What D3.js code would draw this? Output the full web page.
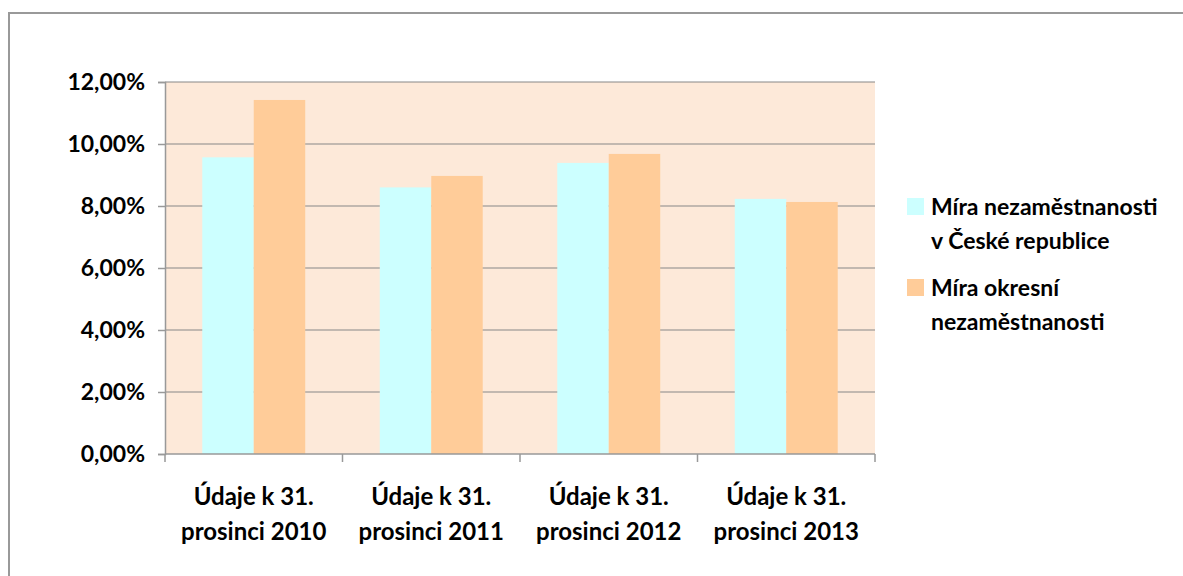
<!DOCTYPE html>
<html>
<head>
<meta charset="utf-8">
<script src="https://cdn.jsdelivr.net/npm/d3@7"></script>
<style>
  body { margin: 0; background: #fff; }
  svg text { font-family: Lato, "Open Sans", sans-serif; font-weight: bold; fill: #000; }
</style>
</head>
<body>
<svg width="1183" height="576"></svg>
<script>
const categories = [
  ['Údaje k 31.', 'prosinci 2010'],
  ['Údaje k 31.', 'prosinci 2011'],
  ['Údaje k 31.', 'prosinci 2012'],
  ['Údaje k 31.', 'prosinci 2013']
]
const seriesNames = [
  ['Míra nezaměstnanosti', 'v České republice'],
  ['Míra okresní', 'nezaměstnanosti']
]
const czValues = [9.57, 8.60, 9.39, 8.23]
const districtValues = [11.42, 8.97, 9.68, 8.13]
const yTicks = [0, 2, 4, 6, 8, 10, 12]
const colors = ['#CCFFFF', '#FFCC99']

const svg = d3.select('svg')

// outer chart border (runs off the right / bottom edge)
svg.append('rect')
  .attr('x', 9).attr('y', 13)
  .attr('width', 1200).attr('height', 600)
  .attr('fill', 'none')
  .attr('stroke', '#999')
  .attr('stroke-width', 2)

const pLeft = 165, pRight = 875, pTop = 82, pBottom = 454

const x0 = d3.scaleBand()
  .domain(d3.range(categories.length))
  .range([pLeft, pRight])
  .paddingInner(0.42)
  .paddingOuter(0.21)
const x1 = d3.scaleBand()
  .domain([0, 1])
  .range([0, x0.bandwidth()])
const y = d3.scaleLinear().domain([0, 12]).range([pBottom, pTop])

// plot background
svg.append('rect')
  .attr('x', pLeft).attr('y', pTop)
  .attr('width', pRight - pLeft).attr('height', pBottom - pTop)
  .attr('fill', '#FDE9D9')

// gridlines
svg.selectAll('.grid')
  .data(yTicks.filter(d => d > 0))
  .enter()
  .append('line')
  .attr('x1', pLeft).attr('x2', pRight)
  .attr('y1', d => y(d)).attr('y2', d => y(d))
  .attr('stroke', '#878787')
  .attr('stroke-width', 1)

// bars
const rows = categories.map((c, i) => [czValues[i], districtValues[i]])
const groups = svg.selectAll('.grp')
  .data(rows)
  .enter()
  .append('g')
  .attr('transform', (d, i) => `translate(${x0(i)},0)`)
groups.selectAll('rect')
  .data(d => d)
  .enter()
  .append('rect')
  .attr('x', (d, j) => x1(j))
  .attr('width', x1.bandwidth())
  .attr('y', d => y(d))
  .attr('height', d => pBottom - y(d))
  .attr('fill', (d, j) => colors[j])

// y axis
const yAxis = d3.axisLeft(y)
  .tickValues(yTicks)
  .tickSize(7)
  .tickPadding(13)
  .tickFormat(d => d3.format('.2f')(d).replace('.', ',') + '%')
const ya = svg.append('g').attr('transform', `translate(${pLeft},0)`).call(yAxis)
ya.selectAll('path, line').attr('stroke', '#999').attr('stroke-width', 1.5)
ya.selectAll('text').style('font-size', '23px')

// x axis line + ticks at category boundaries
svg.append('line')
  .attr('x1', pLeft).attr('x2', pRight)
  .attr('y1', pBottom).attr('y2', pBottom)
  .attr('stroke', '#999').attr('stroke-width', 1.5)
svg.selectAll('.xt')
  .data(d3.range(categories.length + 1))
  .enter()
  .append('line')
  .attr('x1', i => pLeft + i * (pRight - pLeft) / categories.length)
  .attr('x2', i => pLeft + i * (pRight - pLeft) / categories.length)
  .attr('y1', pBottom).attr('y2', pBottom + 8)
  .attr('stroke', '#999').attr('stroke-width', 1.5)

// category labels
const xl = svg.selectAll('.xl')
  .data(categories)
  .enter()
  .append('text')
  .attr('text-anchor', 'middle')
  .style('font-size', '24px')
xl.selectAll('tspan')
  .data((d, i) => d.map(t => ({ t, i })))
  .enter()
  .append('tspan')
  .attr('x', d => x0(d.i) + x0.bandwidth() / 2)
  .attr('y', (d, k) => 505 + k * 35)
  .text(d => d.t)

// legend
const legend = svg.selectAll('.lg')
  .data(seriesNames)
  .enter()
  .append('g')
  .attr('transform', (d, i) => `translate(907,${198 + i * 81})`)
legend.append('rect')
  .attr('width', 17).attr('height', 17)
  .attr('fill', (d, i) => colors[i])
legend.append('text')
  .style('font-size', '23px')
  .selectAll('tspan')
  .data(d => d)
  .enter()
  .append('tspan')
  .attr('x', 24)
  .attr('y', (d, k) => 17 + k * 34)
  .text(d => d)
</script>
</body>
</html>
